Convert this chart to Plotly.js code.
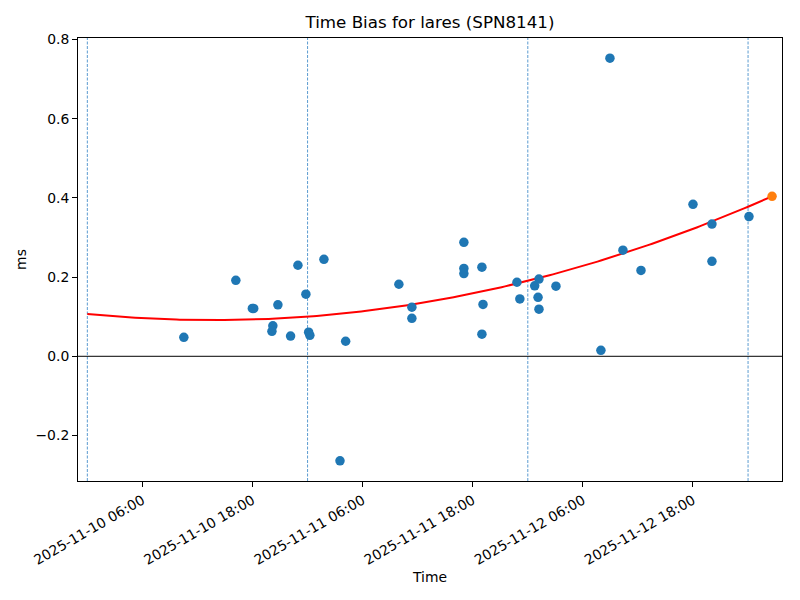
<!DOCTYPE html>
<html>
<head>
<meta charset="utf-8">
<script src="https://cdn.plot.ly/plotly-3.0.1.min.js"></script>
<style>html,body{margin:0;padding:0;background:#fff;}#chart{width:800px;height:600px;}</style>
</head>
<body>
<div id="chart"></div>
<script>
// Observed time bias samples (ms)
const obsTimes = [
  "2025-11-10 10:31", "2025-11-10 16:11", "2025-11-10 17:59", "2025-11-10 18:08",
  "2025-11-10 20:07", "2025-11-10 20:13", "2025-11-10 20:46", "2025-11-10 22:09",
  "2025-11-10 22:57", "2025-11-10 23:49", "2025-11-11 00:07", "2025-11-11 00:15",
  "2025-11-11 01:47", "2025-11-11 03:32", "2025-11-11 04:09", "2025-11-11 09:57",
  "2025-11-11 11:22", "2025-11-11 11:22", "2025-11-11 17:02", "2025-11-11 17:02",
  "2025-11-11 17:02", "2025-11-11 19:00", "2025-11-11 19:07", "2025-11-11 19:00",
  "2025-11-11 22:49", "2025-11-11 23:08", "2025-11-12 00:45", "2025-11-12 01:13",
  "2025-11-12 01:07", "2025-11-12 01:13", "2025-11-12 03:04", "2025-11-12 07:58",
  "2025-11-12 08:57", "2025-11-12 10:22", "2025-11-12 12:20", "2025-11-12 18:00",
  "2025-11-12 20:04", "2025-11-12 20:04", "2025-11-13 00:06"
];
const obsValues = [
  0.048, 0.192, 0.121, 0.121,
  0.063, 0.077, 0.130, 0.051,
  0.230, 0.157, 0.061, 0.053,
  0.245, -0.264, 0.038, 0.182,
  0.124, 0.096, 0.288, 0.222,
  0.209, 0.225, 0.131, 0.056,
  0.187, 0.145, 0.178, 0.195,
  0.149, 0.119, 0.177, 0.015,
  0.753, 0.268, 0.217, 0.384,
  0.334, 0.240, 0.353
];
// Predicted point
const predTimes = ["2025-11-13 02:37"];
const predValues = [0.404];
// Quadratic fit: v = c0 + c1*h + c2*h^2, h = hours since fitOrigin
const fitOrigin = "2025-11-10 06:00";
const fitCoeffs = [0.0963, -1.2977e-3, 8.428e-5];
const fitStart = "2025-11-10 00:00";
const fitEnd = "2025-11-13 02:37";
// Day boundaries
const dayLines = ["2025-11-10 00:00", "2025-11-11 00:00", "2025-11-12 00:00", "2025-11-13 00:00"];
const xRange = ["2025-11-09 22:59", "2025-11-13 03:42"];
const yRange = [-0.315, 0.804];

function toMs(s){ return new Date(s.replace(" ", "T") + ":00Z").getTime(); }
function fmt(ms){
  const d = new Date(ms);
  const p = n => String(n).padStart(2, "0");
  return d.getUTCFullYear()+"-"+p(d.getUTCMonth()+1)+"-"+p(d.getUTCDate())+" "+p(d.getUTCHours())+":"+p(d.getUTCMinutes())+":"+p(d.getUTCSeconds());
}
const o = toMs(fitOrigin), s0 = toMs(fitStart), s1 = toMs(fitEnd);
const fitX = [], fitY = [];
const N = 200;
for (let i = 0; i <= N; i++) {
  const ms = s0 + (s1 - s0) * i / N;
  const h = (ms - o) / 3600000;
  fitX.push(fmt(ms));
  fitY.push(fitCoeffs[0] + fitCoeffs[1]*h + fitCoeffs[2]*h*h);
}

const traces = [
  {x: fitX, y: fitY, type: "scatter", mode: "lines", line: {color: "red", width: 2}, hoverinfo: "skip"},
  {x: obsTimes, y: obsValues, type: "scatter", mode: "markers", marker: {color: "#1f77b4", size: 9.5}},
  {x: predTimes, y: predValues, type: "scatter", mode: "markers", marker: {color: "#ff7f0e", size: 9.5}}
];

const shapes = dayLines.map(t => ({
  type: "line", xref: "x", yref: "paper", x0: t, x1: t, y0: 0, y1: 1,
  line: {color: "#5b9bd0", width: 1, dash: "3px,1.5px"}, layer: "below"
}));
shapes.push({type: "line", xref: "paper", yref: "y", x0: 0, x1: 1, y0: 0, y1: 0,
  line: {color: "black", width: 1}, layer: "below"});

const font = {family: "DejaVu Sans, sans-serif", color: "#000", size: 13.9};
const layout = {
  width: 800, height: 600,
  margin: {l: 78, r: 18, t: 38, b: 119},
  paper_bgcolor: "#fff", plot_bgcolor: "#fff",
  showlegend: false,
  font: font,
  title: {text: "Time Bias for lares (SPN8141)", font: {family: font.family, size: 16.7, color: "#000"}, x: 0.5375, xanchor: "center", y: 0.963, yanchor: "middle"},
  xaxis: {
    type: "date", range: xRange,
    tick0: "2025-11-10 06:00", dtick: 43200000, tickformat: "%Y-%m-%d %H:%M",
    tickangle: -30, ticks: "outside", ticklen: 5, tickcolor: "#000", tickwidth: 1,
    showline: true, linecolor: "#000", linewidth: 1, mirror: true,
    showgrid: false, zeroline: false,
    tickfont: font,
    title: {text: "Time", font: font, standoff: 5}
  },
  yaxis: {
    range: yRange, dtick: 0.2, tick0: 0, tickformat: ".1f",
    ticks: "outside", ticklen: 5, tickcolor: "#000", tickwidth: 1,
    showline: true, linecolor: "#000", linewidth: 1, mirror: true,
    showgrid: false, zeroline: false,
    tickfont: font,
    title: {text: "ms", font: font, standoff: 5}
  },
  shapes: shapes
};
Plotly.newPlot("chart", traces, layout, {displayModeBar: false, staticPlot: true});
</script>
</body>
</html>
